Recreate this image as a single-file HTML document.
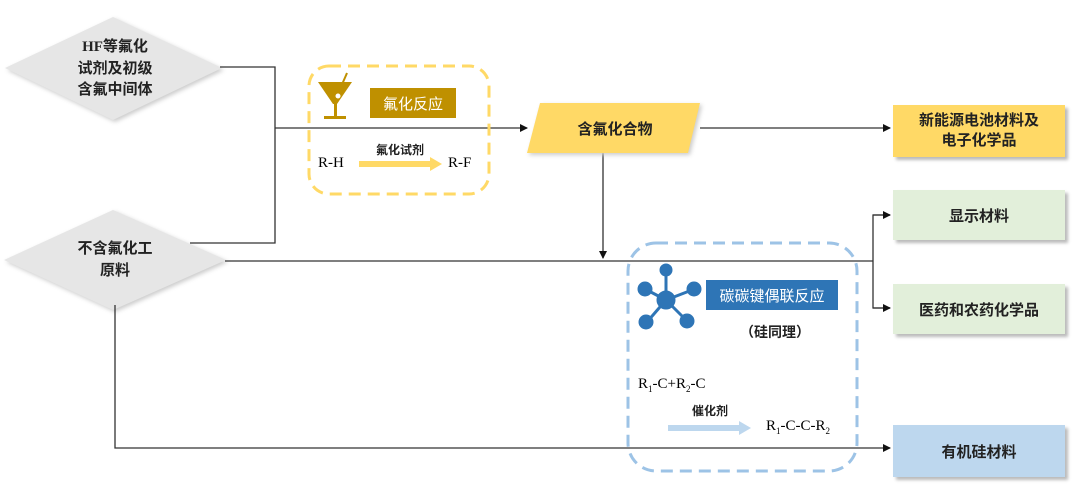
<!DOCTYPE html>
<html><head><meta charset="utf-8"><style>
body{margin:0;width:1080px;height:499px;background:#fff;overflow:hidden;position:relative;font-family:"Liberation Serif","Noto Serif CJK SC",serif}
.t{position:absolute;font-family:"Liberation Sans","Noto Sans CJK SC",sans-serif;font-weight:bold;color:#222;text-align:center;white-space:nowrap}
.box{position:absolute;box-shadow:3px 3px 3px #bbb;display:flex;align-items:center;justify-content:center;font-family:"Liberation Sans","Noto Sans CJK SC",sans-serif;font-weight:bold;font-size:15px;color:#222}
</style></head><body>
<svg width="1080" height="499" style="position:absolute;left:0;top:0">
<defs><marker id="a" markerWidth="8" markerHeight="8" refX="7" refY="4" orient="auto" markerUnits="userSpaceOnUse"><path d="M0,0L8,4L0,8z" fill="#111"/></marker></defs>
<polygon points="5,68 113,17 222,68 113,120" fill="#e6e6e6" style="filter:drop-shadow(2px 2px 2px #ccc)"/>
<polygon points="4,260 113,210 226,260 113,310" fill="#e6e6e6" style="filter:drop-shadow(2px 2px 2px #ccc)"/>
<g stroke="#333" stroke-width="1.3" fill="none">
<polyline points="220,67 275,67 275,243 190,243"/>
<line x1="275" y1="128" x2="527" y2="128" marker-end="url(#a)"/>
<line x1="700" y1="128" x2="890" y2="128" marker-end="url(#a)"/>
<line x1="603" y1="153" x2="603" y2="258" marker-end="url(#a)"/>
<line x1="225" y1="261" x2="873" y2="261"/>
<polyline points="890,215 873,215 873,308 890,308" />
<line x1="873" y1="215" x2="890" y2="215" marker-end="url(#a)"/>
<line x1="873" y1="308" x2="890" y2="308" marker-end="url(#a)"/>
<polyline points="115,305 115,448 890,448" marker-end="url(#a)"/>
</g>
<polygon points="540,103 700,103 688,153 527,153" fill="#FFD966" style="filter:drop-shadow(2px 2px 2px #ccc)"/>
<rect x="309" y="66" width="180" height="128" rx="20" fill="none" stroke="#FFD966" stroke-width="3" stroke-dasharray="12,7"/>
<rect x="628" y="243" width="229" height="228" rx="28" fill="none" stroke="#9DC3E6" stroke-width="3" stroke-dasharray="12,7"/>
<!-- cocktail -->
<polygon points="318,82 352,82 337,104 333,104" fill="#BF9000"/>
<rect x="334" y="102" width="3" height="15" fill="#BF9000"/>
<rect x="324" y="116" width="22" height="3" fill="#BF9000"/>
<line x1="337" y1="96" x2="347" y2="73" stroke="#BF9000" stroke-width="2"/>
<circle cx="338" cy="96" r="2.5" fill="#fff"/>
<rect x="370" y="88" width="86" height="30" fill="#BF9000"/>
<rect x="359" y="161" width="72" height="6" fill="#FFD966"/><polygon points="430,157 442,164 430,171" fill="#FFD966"/>
<!-- molecule -->
<g stroke="#2E75B6" stroke-width="3" fill="#2E75B6">
<line x1="666" y1="300" x2="666" y2="270"/><line x1="666" y1="300" x2="645" y2="289"/><line x1="666" y1="300" x2="692" y2="290"/><line x1="666" y1="300" x2="647" y2="322"/><line x1="666" y1="300" x2="686" y2="320"/>
<circle cx="666" cy="300" r="8"/><circle cx="666" cy="270" r="5"/><circle cx="645" cy="289" r="6"/><circle cx="694" cy="289" r="6"/><circle cx="646" cy="322" r="6"/><circle cx="687" cy="321" r="6"/>
</g>
<rect x="706" y="280" width="132" height="30" fill="#2E75B6"/>
<rect x="668" y="425" width="72" height="6" fill="#BDD7EE"/><polygon points="739,421 751,428 739,435" fill="#BDD7EE"/>
</svg>
<div class="t" style="left:60px;top:36px;width:110px;font-size:15px;line-height:21px"><span style="font-family:'Liberation Serif'">HF</span>等氟化<br>试剂及初级<br>含氟中间体</div>
<div class="t" style="left:60px;top:238px;width:110px;font-size:15px;line-height:22px">不含氟化工<br>原料</div>
<div class="t" style="left:555px;top:118px;width:120px;font-size:15px">含氟化合物</div>
<div class="t" style="left:370px;top:93px;width:86px;font-size:15px;color:#fff;font-weight:normal">氟化反应</div>
<div class="t" style="left:360px;top:141px;width:80px;font-size:12px">氟化试剂</div>
<div style="position:absolute;left:318px;top:155px;font-size:15px">R-H</div>
<div style="position:absolute;left:448px;top:155px;font-size:15px">R-F</div>
<div class="box" style="left:893px;top:105px;width:172px;height:52px;background:#FFD966;line-height:20px;text-align:center">新能源电池材料及<br>电子化学品</div>
<div class="box" style="left:893px;top:190px;width:172px;height:50px;background:#E2EFDA">显示材料</div>
<div class="box" style="left:893px;top:284px;width:172px;height:50px;background:#E2EFDA">医药和农药化学品</div>
<div class="box" style="left:893px;top:425px;width:172px;height:52px;background:#BDD7EE">有机硅材料</div>
<div class="t" style="left:706px;top:285px;width:132px;font-size:15px;color:#fff;font-weight:normal">碳碳键偶联反应</div>
<div class="t" style="left:730px;top:322px;width:90px;font-size:14px">（硅同理）</div>
<div style="position:absolute;left:638px;top:376px;font-size:15px">R<sub style="font-size:9px">1</sub>-C+R<sub style="font-size:9px">2</sub>-C</div>
<div class="t" style="left:680px;top:402px;width:60px;font-size:12px">催化剂</div>
<div style="position:absolute;left:766px;top:418px;font-size:15px">R<sub style="font-size:9px">1</sub>-C-C-R<sub style="font-size:9px">2</sub></div>
</body></html>
